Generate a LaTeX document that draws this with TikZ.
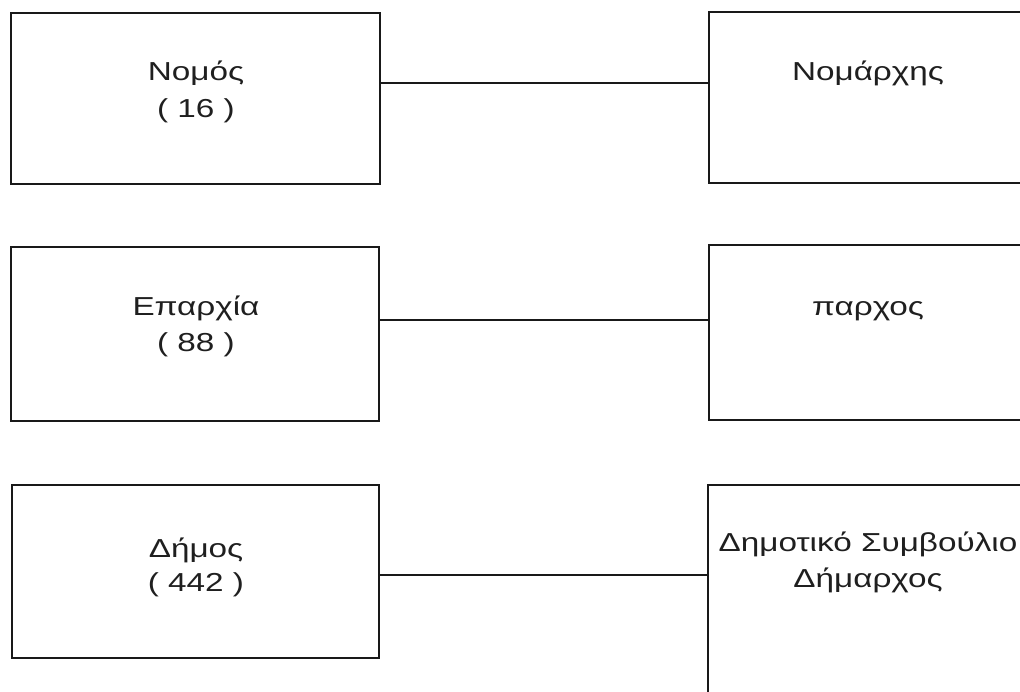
\documentclass[tikz,border=0pt]{standalone}
\usepackage{fontspec}
\setmainfont{Liberation Sans}[FakeStretch=1.28]
\begin{document}
\begin{tikzpicture}[x=1pt,y=-1pt,
  box/.style={draw=black!90, line width=1.5pt, rectangle, inner sep=0pt, outer sep=0pt},
  lbl/.style={anchor=base, inner sep=0pt, text=black!88, font=\fontsize{26}{37}\selectfont},
  link/.style={draw=black!90, line width=1.3pt}]
\useasboundingbox (0,0) rectangle (1020,691);
\clip (0,0) rectangle (1020,691);
\fill[white] (0,0) rectangle (1020,691);
% left boxes
\node[box, minimum width=369pt, minimum height=171pt] (l1) at (195.5,98.5) {};
\node[box, minimum width=368pt, minimum height=174pt] (l2) at (195,334) {};
\node[box, minimum width=367pt, minimum height=173pt] (l3) at (195.5,571.5) {};
% right boxes (running off the page)
\node[box, minimum width=321pt, minimum height=171pt] (r1) at (869.5,97.5) {};
\node[box, minimum width=321pt, minimum height=175pt] (r2) at (869.5,332.5) {};
\node[box, minimum width=322pt, minimum height=235pt] (r3) at (869,602.5) {};
% labels
\node[lbl] (t1a) at (196,80) {Νομός};
\node[lbl] (t1b) at (196,117) {( 16 )};
\node[lbl] (t2a) at (196,315) {Επαρχία};
\node[lbl] (t2b) at (196,351) {( 88 )};
\node[lbl] (t3a) at (196,557) {Δήμος};
\node[lbl] (t3b) at (196,591) {( 442 )};
\node[lbl] (u1) at (868,80) {Νομάρχης};
\node[lbl] (u2) at (868,315) {παρχος};
\node[lbl] (u3a) at (868,551) {Δημοτικό Συμβούλιο};
\node[lbl] (u3b) at (868,587) {Δήμαρχος};
% connectors
\coordinate (c1) at (0,83);
\coordinate (c2) at (0,320);
\coordinate (c3) at (0,575);
\draw[link] (l1.east |- c1) -- (r1.west |- c1);
\draw[link] (l2.east |- c2) -- (r2.west |- c2);
\draw[link] (l3.east |- c3) -- (r3.west |- c3);
\end{tikzpicture}
\end{document}
